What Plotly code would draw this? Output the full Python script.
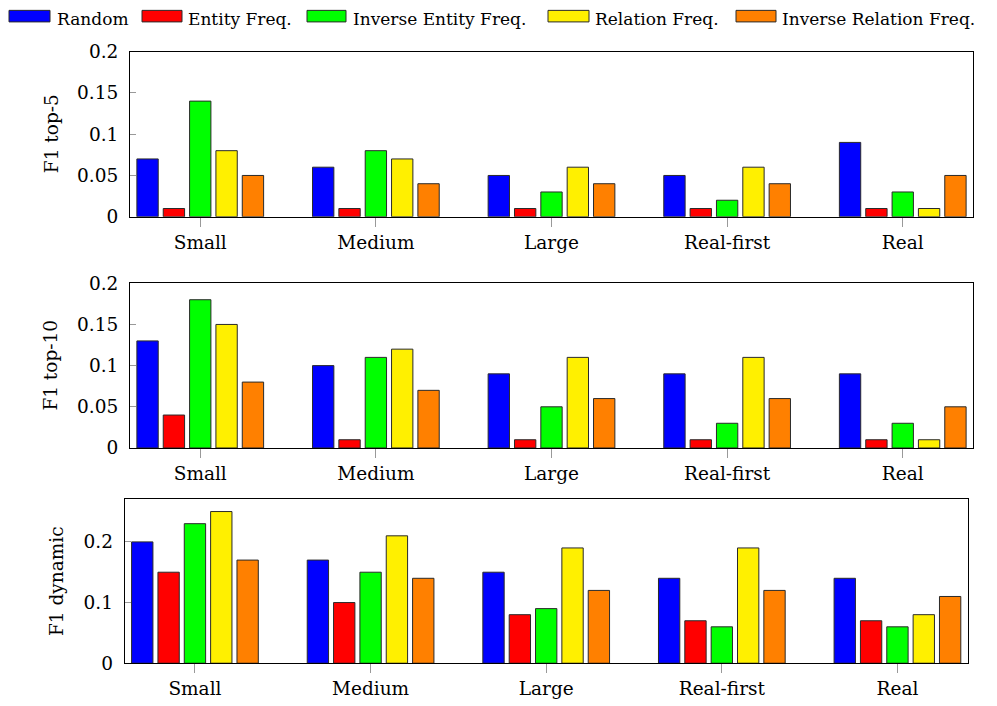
import plotly.graph_objects as go
from plotly.subplots import make_subplots

categories = ["Small", "Medium", "Large", "Real-first", "Real"]
series_names = ["Random", "Entity Freq.", "Inverse Entity Freq.", "Relation Freq.", "Inverse Relation Freq."]
colors = ["#0000ff", "#ff0000", "#00ff00", "#fff000", "#ff8000"]

# F1 top-5 (per series, across categories)
top5_random = [0.07, 0.06, 0.05, 0.05, 0.09]
top5_entity = [0.01, 0.01, 0.01, 0.01, 0.01]
top5_inv_entity = [0.14, 0.08, 0.03, 0.02, 0.03]
top5_relation = [0.08, 0.07, 0.06, 0.06, 0.01]
top5_inv_relation = [0.05, 0.04, 0.04, 0.04, 0.05]

# F1 top-10
top10_random = [0.13, 0.10, 0.09, 0.09, 0.09]
top10_entity = [0.04, 0.01, 0.01, 0.01, 0.01]
top10_inv_entity = [0.18, 0.11, 0.05, 0.03, 0.03]
top10_relation = [0.15, 0.12, 0.11, 0.11, 0.01]
top10_inv_relation = [0.08, 0.07, 0.06, 0.06, 0.05]

# F1 dynamic
dyn_random = [0.20, 0.17, 0.15, 0.14, 0.14]
dyn_entity = [0.15, 0.10, 0.08, 0.07, 0.07]
dyn_inv_entity = [0.23, 0.15, 0.09, 0.06, 0.06]
dyn_relation = [0.25, 0.21, 0.19, 0.19, 0.08]
dyn_inv_relation = [0.17, 0.14, 0.12, 0.12, 0.11]

y_titles = ["F1 top-5", "F1 top-10", "F1 dynamic"]
ytick_vals_small = [0, 0.05, 0.1, 0.15, 0.2]
ytick_text_small = ["0", "0.05", "0.1", "0.15", "0.2"]
ytick_vals_dyn = [0, 0.1, 0.2]
ytick_text_dyn = ["0", "0.1", "0.2"]

panels = [
    [top5_random, top5_entity, top5_inv_entity, top5_relation, top5_inv_relation],
    [top10_random, top10_entity, top10_inv_entity, top10_relation, top10_inv_relation],
    [dyn_random, dyn_entity, dyn_inv_entity, dyn_relation, dyn_inv_relation],
]

W, H = 997, 706
FONT = "DejaVu Serif"
FS = 18.5
FS_LEG = 17

fig = make_subplots(rows=3, cols=1)

for r, panel in enumerate(panels, start=1):
    for name, vals, col in zip(series_names, panel, colors):
        fig.add_trace(
            go.Bar(
                x=categories, y=vals, name=name, marker_color=col,
                marker_line_color="#2a2a2a", marker_line_width=1,
                showlegend=False,
            ),
            row=r, col=1,
        )

# compensation for the page offset observed in the rendered screenshot
OX, OY, SY = 8.0, 18.6, 0.966

def px_x(p):
    return (p - OX) / W

def px_y(p):
    return 1 - ((p - OY) / SY) / H

# plot-area geometry (target pixels)
x_domains = [(130, 973), (130, 973), (124.7, 967.7)]
y_domains = [(51, 215.5), (281.7, 445.7), (496.3, 660)]
y_ranges = [[0, 0.2], [0, 0.2], [0, 0.271]]
ytv = [(ytick_vals_small, ytick_text_small), (ytick_vals_small, ytick_text_small), (ytick_vals_dyn, ytick_text_dyn)]

for i in range(3):
    xa = "xaxis" if i == 0 else f"xaxis{i+1}"
    ya = "yaxis" if i == 0 else f"yaxis{i+1}"
    x0, x1 = x_domains[i]
    yt, yb = y_domains[i]
    fig.layout[xa].update(
        domain=[px_x(x0), px_x(x1)],
        range=[-0.4, 4.4],
        showline=True, linecolor="black", linewidth=1, mirror=True,
        ticks="outside", ticklen=9, tickcolor="#999999", tickwidth=1,
        tickfont=dict(family=FONT, size=FS, color="black"),
        showgrid=False, zeroline=False,
    )
    fig.layout[ya].update(
        domain=[max(0, px_y(yb)), min(1, px_y(yt))],
        range=y_ranges[i],
        showline=True, linecolor="black", linewidth=1, mirror=True,
        ticks="inside", ticklen=6, tickcolor="#999999", tickwidth=1,
        tickvals=ytv[i][0], ticktext=ytv[i][1],
        tickfont=dict(family=FONT, size=FS, color="black"),
        ticklabelstandoff=7,
        showgrid=False, zeroline=False,
    )
    label_x = [51, 51, 56][i]
    fig.add_annotation(
        x=px_x(label_x), y=px_y((yt + yb) / 2), xref="paper", yref="paper",
        text=y_titles[i], textangle=-90, showarrow=False,
        font=dict(family=FONT, size=FS, color="black"),
        xanchor="center", yanchor="middle",
    )

# custom legend along the top
legend_boxes = [(9, 50), (142, 182), (307, 346), (548, 589), (736, 776)]
legend_text_x = [56, 187, 352, 594, 781]
for (bx0, bx1), tx, name, col in zip(legend_boxes, legend_text_x, series_names, colors):
    fig.add_shape(
        type="rect", xref="paper", yref="paper",
        x0=px_x(bx0), x1=px_x(bx1), y0=px_y(21.5), y1=px_y(10),
        fillcolor=col, line=dict(color="#2a2a2a", width=1),
    )
    fig.add_annotation(
        x=px_x(tx), y=px_y(19), xref="paper", yref="paper",
        text=name, showarrow=False, xanchor="left", yanchor="middle",
        borderpad=0,
        font=dict(family=FONT, size=FS_LEG, color="black"),
    )

fig.update_layout(
    width=W, height=H,
    margin=dict(l=0, r=0, t=0, b=0),
    paper_bgcolor="white", plot_bgcolor="white",
    barmode="group", bargap=0.25, bargroupgap=0.19,
    font=dict(family=FONT, size=FS, color="black"),
)

fig.write_html("out.html")
